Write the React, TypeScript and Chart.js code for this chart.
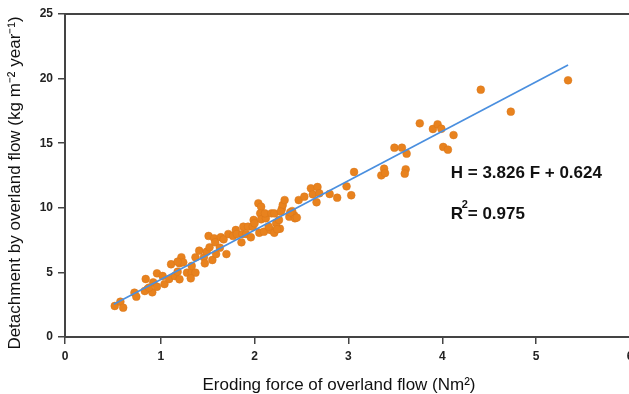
import React, { useEffect, useRef } from "react";
import { Chart, registerables } from "chart.js";

Chart.register(...registerables);

// Eroding force of overland flow (Nm²)
const forceX = [
  0.51, 0.57, 0.60, 0.72, 0.74, 0.84, 0.86, 0.83, 0.91, 0.875, 0.92, 0.96, 0.96, 1.02, 1.04, 1.09, 1.11,
  1.15, 1.20, 1.18, 1.20, 1.22, 1.24, 1.28, 1.33, 1.37, 1.32, 1.33, 1.37, 1.41, 1.46, 1.47, 1.49,
  1.52, 1.51, 1.57, 1.55, 1.58, 1.59, 1.63, 1.64, 1.67, 1.70, 1.72, 1.77, 1.80, 1.81, 1.86, 1.87,
  1.88, 1.93, 1.98, 1.91, 1.96, 1.99, 2.00, 2.04, 2.07, 2.06, 2.07, 2.12, 2.05, 2.10,
  2.11, 2.18, 2.21, 2.17, 2.21, 2.27, 2.23, 2.26, 2.29, 2.30, 2.32, 2.37, 2.42, 2.43, 2.40, 2.47,
  2.53, 2.60, 2.67, 2.62, 2.69, 2.66, 2.80, 2.88, 2.15, 2.24, 2.45, 2.38, 2.28, 1.18,
  2.98, 3.03, 3.06, 3.35, 3.38, 3.39, 3.49, 3.57, 3.62, 3.61, 3.60, 3.76, 3.90, 3.95, 3.99,
  4.01, 4.06, 4.12, 4.41, 4.73, 5.34,
];
// Detachment by overland flow (kg m⁻² year⁻¹)
const detachY = [
  2.40, 2.73, 2.27, 3.43, 3.12, 4.49, 3.72, 3.56, 3.46, 3.82, 4.23, 4.93, 3.89, 4.72, 4.10, 4.49, 5.63,
  4.72, 4.47, 5.05, 5.70, 6.17, 5.78, 4.98, 4.98, 4.98, 4.54, 5.50, 6.17, 6.68, 6.17, 5.70, 6.60,
  6.94, 7.82, 7.64, 5.96, 7.33, 6.42, 6.91, 7.72, 7.56, 6.42, 7.97, 7.82, 8.28, 7.97, 7.33, 7.97,
  8.54, 8.54, 8.54, 7.97, 7.72, 9.06, 8.80, 10.35, 10.08, 9.57, 9.11, 9.19, 8.07, 8.15,
  9.57, 9.57, 9.57, 8.28, 8.07, 8.38, 8.80, 9.06, 9.91, 10.22, 10.60, 9.31, 9.44, 9.19, 9.75, 10.60,
  10.86, 11.51, 11.61, 11.04, 11.12, 10.43, 11.07, 10.78, 8.54, 8.34, 9.24, 9.65, 9.70, 5.83,
  11.66, 10.97, 12.77, 12.51, 13.03, 12.69, 14.65, 14.65, 14.19, 12.98, 12.64, 16.54, 16.10, 16.46, 16.12,
  14.71, 14.50, 15.63, 19.14, 17.44, 19.87,
];

const fitSlope = 3.826;
const fitIntercept = 0.624;
const fitRange = [0.5, 5.34];

const xTitle = "Eroding force of overland flow (Nm²)";
const yTitle = "Detachment by overland flow (kg m⁻² year⁻¹)";
const eqText = "H = 3.826 F + 0.624";
const r2Text = "= 0.975";
const eqAnchor = [4.09, 12.28];
const r2Anchor = [4.09, 9.11];

const FONT = '"Liberation Sans", Arial, sans-serif';

const decorPlugin = {
  id: "decor",
  afterDraw(chart: any) {
    const { ctx, chartArea, scales } = chart;
    const { left, top } = chartArea;
    ctx.save();
    ctx.strokeStyle = "#444";
    ctx.lineWidth = 2;
    ctx.beginPath();
    ctx.moveTo(left - 1, top);
    ctx.lineTo(chart.width, top);
    ctx.stroke();

    ctx.fillStyle = "#111";
    ctx.font = `17px ${FONT}`;
    ctx.textAlign = "center";
    ctx.textBaseline = "middle";
    ctx.fillText(xTitle, 339, 385);
    ctx.save();
    ctx.translate(15, 183);
    ctx.rotate(-Math.PI / 2);
    ctx.fillText(yTitle, 0, 0);
    ctx.restore();

    ctx.textAlign = "left";
    ctx.textBaseline = "alphabetic";
    ctx.font = `bold 17px ${FONT}`;
    const ex = scales.x.getPixelForValue(eqAnchor[0]);
    const ey = scales.y.getPixelForValue(eqAnchor[1]);
    ctx.fillText(eqText, ex, ey);
    const rx = scales.x.getPixelForValue(r2Anchor[0]);
    const ry = scales.y.getPixelForValue(r2Anchor[1]);
    ctx.fillText("R", rx, ry);
    ctx.font = `bold 11px ${FONT}`;
    ctx.fillText("2", rx + 11, ry - 11);
    ctx.font = `bold 17px ${FONT}`;
    ctx.fillText(r2Text, rx + 17, ry);
    ctx.restore();
  },
};

export default function App() {
  const canvasRef = useRef<HTMLCanvasElement | null>(null);

  useEffect(() => {
    const canvas = canvasRef.current;
    if (!canvas) return;
    const points = forceX.map((x, i) => ({ x, y: detachY[i] }));
    const fit = fitRange.map((x) => ({ x, y: fitSlope * x + fitIntercept }));
    const tickFont = { family: FONT, size: 12, weight: "bold" as const };
    const chart = new Chart(canvas, {
      type: "scatter",
      data: {
        datasets: [
          {
            type: "line",
            data: fit,
            borderColor: "#4a8fdf",
            borderWidth: 1.7,
            pointRadius: 0,
            showLine: true,
            fill: false,
            order: 1,
          } as any,
          {
            type: "scatter",
            data: points,
            backgroundColor: "#e8821e",
            borderColor: "#d9761a",
            borderWidth: 0.5,
            pointRadius: 3.9,
            order: 2,
          },
        ],
      },
      options: {
        responsive: false,
        animation: false,
        devicePixelRatio: 1,
        layout: { padding: { top: 14, right: 10, left: 0, bottom: 0 } },
        plugins: { legend: { display: false }, tooltip: { enabled: false } },
        scales: {
          x: {
            type: "linear",
            min: -0.02,
            max: 6,
            ticks: {
              stepSize: 1,
              font: tickFont,
              color: "#222",
              padding: 5,
              callback: (v: any) => String(Math.round(Number(v))),
            },
            grid: { drawOnChartArea: false, drawTicks: true, tickLength: 7, color: "#444", lineWidth: 1.5 },
            border: { display: true, color: "#444", width: 2 },
            afterFit: (scale: any) => {
              scale.height = 57;
            },
          },
          y: {
            type: "linear",
            min: 0,
            max: 25,
            ticks: { stepSize: 5, font: tickFont, color: "#222", padding: 5 },
            grid: { drawOnChartArea: false, drawTicks: true, tickLength: 7, color: "#444", lineWidth: 1.5 },
            border: { display: true, color: "#444", width: 2 },
            afterFit: (scale: any) => {
              scale.width = 65;
            },
          },
        },
      },
      plugins: [decorPlugin],
    });
    return () => chart.destroy();
  }, []);

  return (
    <div
      style={{
        position: "fixed",
        left: 0,
        top: 0,
        width: 629,
        height: 394,
        overflow: "hidden",
        background: "#fff",
      }}
    >
      <canvas ref={canvasRef} width={640} height={394} style={{ display: "block" }} />
    </div>
  );
}
